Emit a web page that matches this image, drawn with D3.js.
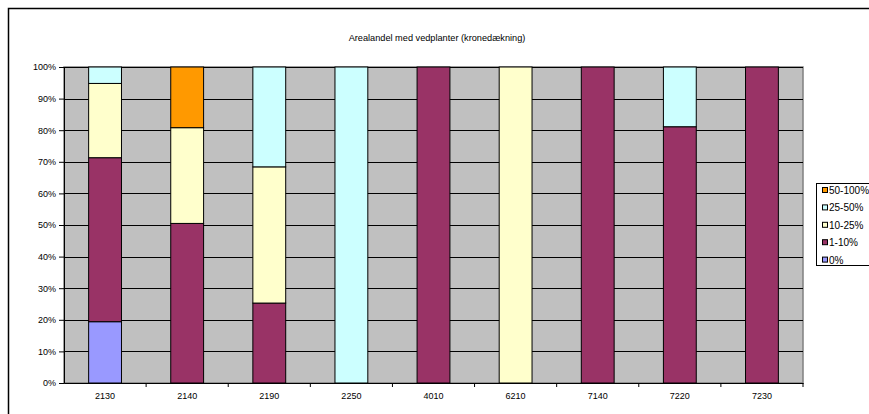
<!DOCTYPE html>
<html>
<head>
<meta charset="utf-8">
<script src="https://cdn.jsdelivr.net/npm/d3@7"></script>
<style>
  html, body { margin: 0; padding: 0; background: #fff; overflow: hidden; }
  svg { display: block; font-family: "Liberation Sans", Arial, sans-serif; }
</style>
</head>
<body>
<svg id="chart" width="869" height="414"></svg>
<script>
// Habitat type codes along the x axis
const categories = ["2130", "2140", "2190", "2250", "4010", "6210", "7140", "7220", "7230"];

// Crown cover classes, stacked bottom to top
const seriesNames = ["0%", "1-10%", "10-25%", "25-50%", "50-100%"];
const seriesColors = ["#9999FF", "#993366", "#FFFFCC", "#CCFFFF", "#FF9900"];

// Share of area (%) per class, one value per category
const cover0 = [19.4, 0, 0, 0, 0, 0, 0, 0, 0];
const cover1to10 = [51.9, 50.5, 25.3, 0, 100, 0, 100, 81.1, 100];
const cover10to25 = [23.5, 30.3, 43.1, 0, 0, 100, 0, 0, 0];
const cover25to50 = [5.2, 0, 31.6, 100, 0, 0, 0, 18.9, 0];
const cover50to100 = [0, 19.2, 0, 0, 0, 0, 0, 0, 0];

const yTicks = [0, 10, 20, 30, 40, 50, 60, 70, 80, 90, 100];
const title = "Arealandel med vedplanter (kronedækning)";

const seriesValues = [cover0, cover1to10, cover10to25, cover25to50, cover50to100];
const rows = categories.map((c, i) => {
  const r = { cat: c };
  seriesNames.forEach((s, k) => { r[s] = seriesValues[k][i]; });
  return r;
});

const svg = d3.select("#chart");
const W = 869, H = 414;
const plot = { left: 64, right: 803, top: 67, bottom: 383 };

// Outer chart frame (runs off the right and bottom edges)
svg.append("rect")
  .attr("x", 8.5).attr("y", 8.5)
  .attr("width", W + 10).attr("height", H + 10)
  .attr("fill", "#fff").attr("stroke", "#000").attr("stroke-width", 1.5);

svg.append("text")
  .attr("x", 437).attr("y", 41)
  .attr("text-anchor", "middle")
  .attr("font-size", 9.2)
  .attr("fill", "#000")
  .text(title);

const x = d3.scaleBand().domain(categories).range([plot.left, plot.right]).paddingInner(0).paddingOuter(0);
const y = d3.scaleLinear().domain([0, 100]).range([plot.bottom, plot.top]);

// Plot area background
svg.append("rect")
  .attr("x", plot.left).attr("y", plot.top)
  .attr("width", plot.right - plot.left).attr("height", plot.bottom - plot.top)
  .attr("fill", "#C0C0C0")
  .attr("stroke", "#808080").attr("stroke-width", 1.5);

// Horizontal gridlines
svg.append("g").selectAll("line")
  .data(yTicks.filter(t => t > 0))
  .join("line")
  .attr("x1", plot.left).attr("x2", plot.right)
  .attr("y1", d => Math.round(y(d)) + 0.5).attr("y2", d => Math.round(y(d)) + 0.5)
  .attr("stroke", "#000").attr("stroke-width", 1);

// Stacked bars
const stack = d3.stack().keys(seriesNames);
const layers = stack(rows);
const bw = x.bandwidth() / 2.5;

svg.append("g").selectAll("g")
  .data(layers)
  .join("g")
  .attr("fill", (d, i) => seriesColors[i])
  .selectAll("rect")
  .data(d => d.filter(p => p[1] - p[0] > 0))
  .join("rect")
  .attr("x", d => x(d.data.cat) + (x.bandwidth() - bw) / 2)
  .attr("width", bw)
  .attr("y", d => y(d[1]))
  .attr("height", d => y(d[0]) - y(d[1]))
  .attr("stroke", "#000").attr("stroke-width", 1);

// Y axis
const yAxis = d3.axisLeft(y).tickValues(yTicks).tickFormat(d => d + "%").tickSize(5).tickPadding(3);
const gy = svg.append("g").attr("transform", `translate(${plot.left},0)`).call(yAxis);
gy.select(".domain").attr("stroke", "#000");
gy.selectAll(".tick line").attr("stroke", "#000");
gy.selectAll("text").attr("font-size", 9).attr("fill", "#000").attr("font-family", "Liberation Sans, Arial, sans-serif");

// X axis: labels centred in bands, tick marks between categories
const xAxis = d3.axisBottom(x).tickSize(0).tickPadding(10);
const gx = svg.append("g").attr("transform", `translate(0,${plot.bottom})`).call(xAxis);
gx.select(".domain").attr("stroke", "#000");
gx.selectAll("text").attr("font-size", 9).attr("fill", "#000").attr("font-family", "Liberation Sans, Arial, sans-serif");
gx.append("g").selectAll("line")
  .data(categories.slice(1).concat(["__end"]))
  .join("line")
  .attr("x1", d => d === "__end" ? plot.right : x(d))
  .attr("x2", d => d === "__end" ? plot.right : x(d))
  .attr("y1", 0).attr("y2", 4)
  .attr("stroke", "#000");

// Legend (reverse order, top entry is the topmost stack layer)
const legend = svg.append("g");
legend.append("rect")
  .attr("x", 816.5).attr("y", 183.5)
  .attr("width", 60).attr("height", 82)
  .attr("fill", "#fff").attr("stroke", "#000").attr("stroke-width", 1);
const items = seriesNames.map((s, i) => ({ name: s, color: seriesColors[i] })).reverse();
const li = legend.selectAll("g.item").data(items).join("g")
  .attr("class", "item")
  .attr("transform", (d, i) => `translate(822,${190.5 + i * 17.4})`);
li.append("rect")
  .attr("x", 0.5).attr("y", -3)
  .attr("width", 5).attr("height", 5)
  .attr("fill", d => d.color).attr("stroke", "#000").attr("stroke-width", 1);
li.append("text")
  .attr("x", 7).attr("y", 3.5)
  .attr("font-size", 10).attr("fill", "#000")
  .text(d => d.name);
</script>
</body>
</html>
